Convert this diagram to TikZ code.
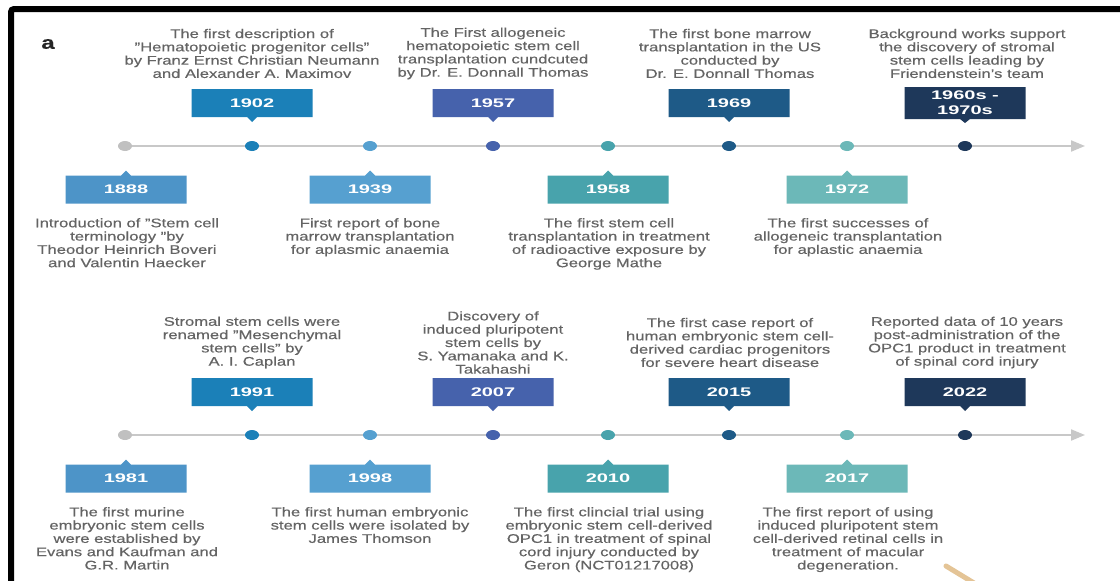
\documentclass[tikz,border=0pt]{standalone}
\usepackage{fontspec}
\setmainfont[FakeStretch=1.33,FakeBold=0.4]{Liberation Sans}
\newfontfamily\yearfont[FakeStretch=1.6]{Liberation Sans}
\usepackage{tikz}
\definecolor{evgray}{RGB}{192,192,192}
\definecolor{evsky}{RGB}{77,148,200}
\definecolor{evlight}{RGB}{86,160,208}
\definecolor{evblue}{RGB}{27,128,184}
\definecolor{evindigo}{RGB}{70,98,172}
\definecolor{evteal}{RGB}{72,163,172}
\definecolor{evdark}{RGB}{30,90,135}
\definecolor{evmint}{RGB}{108,184,184}
\definecolor{evnavy}{RGB}{30,56,90}
\definecolor{axisgray}{RGB}{200,200,200}
\definecolor{txtgray}{RGB}{100,100,100}
\definecolor{tipbeige}{RGB}{228,196,150}
\usetikzlibrary{positioning}
\usetikzlibrary{arrows.meta}
\usetikzlibrary{shapes.geometric}
\usetikzlibrary{shapes.callouts}
\tikzset{dot/.style={ellipse,minimum width=14pt,minimum height=10pt,inner sep=0pt,outer sep=0pt}}
\tikzset{axis/.style={draw=axisgray,line width=2pt}}
\tikzset{txt/.style={font=\fontsize{12.5}{13.3}\selectfont,text=txtgray,align=center,inner sep=0pt}}
\tikzset{yearbox/.style={rectangle callout,fill=#1,text=white,minimum width=121pt,minimum height=28pt,inner sep=0pt,callout pointer width=10pt,font=\yearfont\bfseries\fontsize{12.5}{15}\selectfont,align=center}}
\tikzset{yearup/.style={yearbox=#1,callout relative pointer={(0pt,-5pt)}}}
\tikzset{yeardown/.style={yearbox=#1,callout relative pointer={(0pt,5pt)}}}
\begin{document}
\begin{tikzpicture}[x=1pt,y=-1pt]
        \useasboundingbox[fill=white] (0,0) rectangle (1120,581);
        \draw[line width=6pt,rounded corners=3pt] (11,581) -- (11,9) -- (1120,9);
        \node[font=\bfseries\fontsize{18}{18}\selectfont,text=black!85,inner sep=0pt] (lbl) at (48,44) {a};
        % first row
        \node[dot,fill=evgray] (d1888) at (125,146) {};
        \node[dot,fill=evblue] (d1902) at (252,146) {};
        \node[dot,fill=evlight] (d1939) at (370,146) {};
        \node[dot,fill=evindigo] (d1957) at (493,146) {};
        \node[dot,fill=evteal] (d1958) at (608,146) {};
        \node[dot,fill=evdark] (d1969) at (729,146) {};
        \node[dot,fill=evmint] (d1972) at (847,146) {};
        \node[dot,fill=evnavy] (d1960) at (965,146) {};
        \coordinate (end1) at (1085,146);
        \draw[axis] (d1888) -- (d1902);
        \draw[axis] (d1902) -- (d1939);
        \draw[axis] (d1939) -- (d1957);
        \draw[axis] (d1957) -- (d1958);
        \draw[axis] (d1958) -- (d1969);
        \draw[axis] (d1969) -- (d1972);
        \draw[axis] (d1972) -- (d1960);
        \draw[axis,-{Triangle[length=14pt,width=11pt]}] (d1960) -- (end1);
        \node[yeardown=evsky] (y1888) at (126,189.5) {1888};
        \node[yearup=evblue] (y1902) at (252,103) {1902};
        \node[yeardown=evlight] (y1939) at (370,189.5) {1939};
        \node[yearup=evindigo] (y1957) at (493,103) {1957};
        \node[yeardown=evteal] (y1958) at (608,189.5) {1958};
        \node[yearup=evdark] (y1969) at (729,103) {1969};
        \node[yeardown=evmint] (y1972) at (847,189.5) {1972};
        \node[yearup=evnavy,minimum height=32pt,callout relative pointer={(0pt,-4pt)}] (y1960) at (965,103) {1960s -\\1970s};
        \node[txt,anchor=north] (t1888) at (127,218) {Introduction of "Stem cell\\terminology "by\\Theodor Heinrich Boveri\\and Valentin Haecker};
        \node[txt] (t1902) at (252,53.5) {The first description of\\"Hematopoietic progenitor cells"\\by Franz Ernst Christian Neumann\\and Alexander A. Maximov};
        \node[txt,anchor=north] (t1939) at (370,218) {First report of bone\\marrow transplantation\\for aplasmic anaemia};
        \node[txt] (t1957) at (493,53.5) {The First allogeneic\\hematopoietic stem cell\\transplantation cundcuted\\by Dr. E. Donnall Thomas};
        \node[txt,anchor=north] (t1958) at (609,218) {The first stem cell\\transplantation in treatment\\of radioactive exposure by\\George Mathe};
        \node[txt] (t1969) at (730,53.5) {The first bone marrow\\transplantation in the US\\conducted by\\Dr. E. Donnall Thomas};
        \node[txt,anchor=north] (t1972) at (848,218) {The first successes of\\allogeneic transplantation\\for aplastic anaemia};
        \node[txt] (t1960) at (967,53.5) {Background works support\\the discovery of stromal\\stem cells leading by\\Friendenstein's team};
        % second row
        \node[dot,fill=evgray] (d1981g) at (125,435) {};
        \node[dot,fill=evblue] (d1991) at (252,435) {};
        \node[dot,fill=evlight] (d1998) at (370,435) {};
        \node[dot,fill=evindigo] (d2007) at (493,435) {};
        \node[dot,fill=evteal] (d2010) at (608,435) {};
        \node[dot,fill=evdark] (d2015) at (729,435) {};
        \node[dot,fill=evmint] (d2017) at (847,435) {};
        \node[dot,fill=evnavy] (d2022) at (965,435) {};
        \coordinate (end2) at (1085,435);
        \draw[axis] (d1981g) -- (d1991);
        \draw[axis] (d1991) -- (d1998);
        \draw[axis] (d1998) -- (d2007);
        \draw[axis] (d2007) -- (d2010);
        \draw[axis] (d2010) -- (d2015);
        \draw[axis] (d2015) -- (d2017);
        \draw[axis] (d2017) -- (d2022);
        \draw[axis,-{Triangle[length=14pt,width=11pt]}] (d2022) -- (end2);
        \node[yeardown=evsky] (y1981) at (126,478.5) {1981};
        \node[yearup=evblue] (y1991) at (252,392) {1991};
        \node[yeardown=evlight] (y1998) at (370,478.5) {1998};
        \node[yearup=evindigo] (y2007) at (493,392) {2007};
        \node[yeardown=evteal] (y2010) at (608,478.5) {2010};
        \node[yearup=evdark] (y2015) at (729,392) {2015};
        \node[yeardown=evmint] (y2017) at (847,478.5) {2017};
        \node[yearup=evnavy] (y2022) at (965,392) {2022};
        \node[txt,anchor=north] (t1981) at (127,507) {The first murine\\embryonic stem cells\\were established by\\Evans and Kaufman and\\G.R. Martin};
        \node[txt] (t1991) at (252,342.5) {Stromal stem cells were\\renamed "Mesenchymal\\stem cells" by\\A. I. Caplan};
        \node[txt,anchor=north] (t1998) at (370,507) {The first human embryonic\\stem cells were isolated by\\James Thomson};
        \node[txt] (t2007) at (493,342.5) {Discovery of\\induced pluripotent\\stem cells by\\S. Yamanaka and K.\\Takahashi};
        \node[txt,anchor=north] (t2010) at (609,507) {The first clincial trial using\\embryonic stem cell-derived\\OPC1 in treatment of spinal\\cord injury conducted by\\Geron (NCT01217008)};
        \node[txt] (t2015) at (730,342.5) {The first case report of\\human embryonic stem cell-\\derived cardiac progenitors\\for severe heart disease};
        \node[txt,anchor=north] (t2017) at (848,507) {The first report of using\\induced pluripotent stem\\cell-derived retinal cells in\\treatment of macular\\degeneration.};
        \node[txt] (t2022) at (967,342.5) {Reported data of 10 years\\post-administration of the\\OPC1 product in treatment\\of spinal cord injury};
        \draw[tipbeige,line width=5pt,line cap=round] (946,566) -- (974,583);
      \end{tikzpicture}
\end{document}
